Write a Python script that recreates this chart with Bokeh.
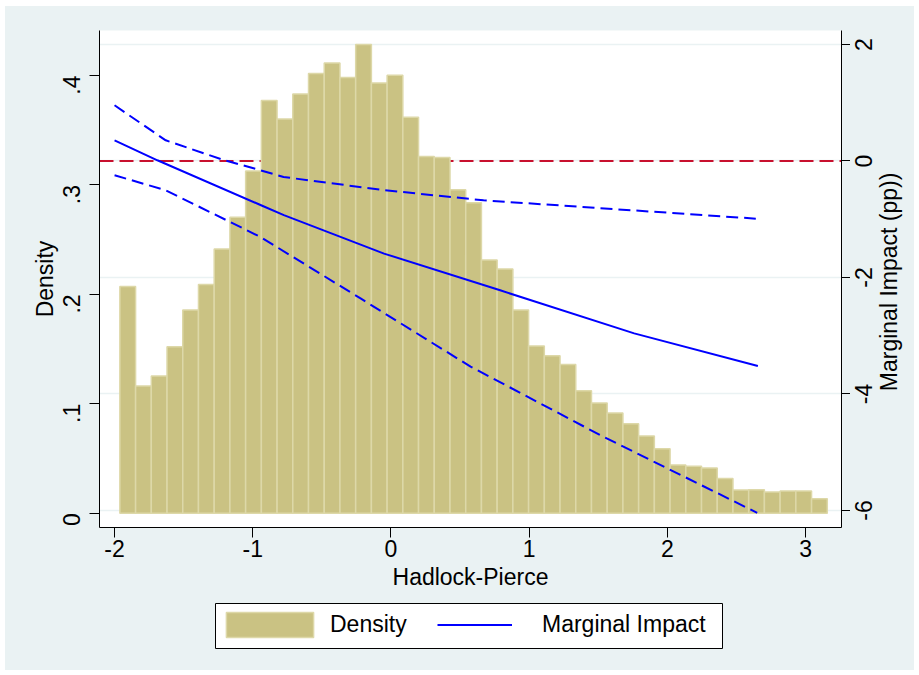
import math
import numpy as np
from bokeh.plotting import figure
from bokeh.layouts import row, column
from bokeh.models import (Range1d, LinearAxis, FixedTicker, Span, Legend, LegendItem,
                          BoxAnnotation)
from bokeh.core.properties import value
from bokeh.embed import file_html
from bokeh.resources import INLINE

# ---------------- data ----------------
bin_start = -1.9616
bin_width = 0.11375
density = [0.2073, 0.1163, 0.1254, 0.1522, 0.1857, 0.2091, 0.2415, 0.2704, 0.3128, 0.3773,
           0.3603, 0.3832, 0.4020, 0.4115, 0.3983, 0.4285, 0.3932, 0.4002, 0.3618, 0.3261,
           0.3252, 0.2957, 0.2838, 0.2314, 0.2232, 0.1857, 0.1528, 0.1440, 0.1360, 0.1120,
           0.1007, 0.0916, 0.0818, 0.0706, 0.0590, 0.0441, 0.0428, 0.0413, 0.0318, 0.0212,
           0.0215, 0.0194, 0.0203, 0.0203, 0.0133]

mi_x = [-2.0, -1.69, -0.94, -0.775, -0.05, 0.79, 1.76, 2.655]
mi_y = [0.355, 0.012, -0.76, -0.93, -1.59, -2.22, -2.96, -3.52]

ci_hi_x = [-2.0, -1.63, -1.22, -0.944, -0.777, -0.053, 0.67, 2.64]
ci_hi_y = [0.956, 0.355, 0.024, -0.16, -0.275, -0.50, -0.675, -0.99]

ci_lo_x = [-2.0, -1.63, -0.944, -0.22, 0.576, 1.517, 2.65]
ci_lo_y = [-0.245, -0.503, -1.305, -2.36, -3.53, -4.71, -6.04]

ref_level = 0

x_ticks = [-2.0, -1.0, 0.0, 1.0, 2.0, 3.0]
x_labels = ["-2", "-1", "0", "1", "2", "3"]
dens_ticks = [0.0, 0.1, 0.2, 0.3, 0.4]
dens_labels = ["0", ".1", ".2", ".3", ".4"]
mi_ticks = [-6.0, -4.0, -2.0, 0.0, 2.0]
mi_labels = ["-6", "-4", "-2", "0", "2"]

x_title = "Hadlock-Pierce"
dens_title = "Density"
mi_title = "Marginal Impact (pp))"
legend_labels = ["Density", "Marginal Impact"]

# ---------------- style ----------------
FONT = "Liberation Sans"
FS = "23px"
BG = "#EAF2F3"
BAR_FILL = "#CAC283"
BAR_LINE = "#DDD8A8"
BLUE = "#0000FF"
RED = "#C8102E"

X_RANGE = (-2.109, 3.26)
MI_RANGE = (-6.292, 2.240)
DENS_RANGE = (-0.01307, 0.4412)

TOP, BOTTOM = 24, 74
MAIN_H = 595
RIGHT_TICK = 9
MAIN_W = 836 + RIGHT_TICK
SIDE_W = 909 - MAIN_W
STRIP_W, STRIP_H = 909, 675 - 6 - 5 - MAIN_H

edges = bin_start + bin_width * np.arange(len(density) + 1)

mi_range = Range1d(*MI_RANGE)

p = figure(width=MAIN_W, height=MAIN_H,
           x_range=Range1d(*X_RANGE),
           y_range=mi_range,
           y_axis_location="right",
           output_backend="svg", toolbar_location=None,
           min_border_left=94, min_border_right=RIGHT_TICK,
           min_border_top=TOP, min_border_bottom=BOTTOM)
p.extra_y_ranges = {"dens": Range1d(*DENS_RANGE)}

p.border_fill_color = BG
p.background_fill_color = "white"
p.outline_line_color = None

# grid (follows right axis ticks)
p.xgrid.visible = False
p.ygrid.ticker = FixedTicker(ticks=mi_ticks)
p.ygrid.grid_line_color = BG
p.ygrid.grid_line_width = 1.5

# reference line at 0 (behind bars)
ref = Span(location=ref_level, dimension="width", line_color=RED, line_width=2,
           line_dash="14 6", level="underlay")
p.add_layout(ref)

# histogram
q = p.quad(left=edges[:-1], right=edges[1:], top=density, bottom=0,
           fill_color=BAR_FILL, line_color=BAR_LINE, line_width=1.5,
           y_range_name="dens")

# marginal impact lines
solid = p.line(mi_x, mi_y, line_color=BLUE, line_width=2)
p.line(ci_hi_x, ci_hi_y, line_color=BLUE, line_width=2, line_dash="12 6")
p.line(ci_lo_x, ci_lo_y, line_color=BLUE, line_width=2, line_dash="12 6")

# axes
def style_axis(ax):
    ax.axis_line_color = "black"
    ax.axis_line_width = 1
    ax.major_tick_line_color = "black"
    ax.major_tick_out = 10
    ax.major_tick_in = 0
    ax.minor_tick_line_color = None
    ax.major_label_text_font = FONT
    ax.major_label_text_font_size = FS
    ax.major_label_text_color = "black"
    ax.axis_label_text_font = FONT
    ax.axis_label_text_font_size = FS
    ax.axis_label_text_font_style = "normal"
    ax.axis_label_text_color = "black"

xa = p.xaxis[0]
xa.ticker = FixedTicker(ticks=x_ticks)
xa.major_label_overrides = dict(zip(x_ticks, x_labels))
xa.axis_label = x_title
style_axis(xa)
xa.major_label_standoff = 2
xa.axis_label_standoff = 4

# right axis: line + ticks here, its texts are drawn in the side panel
ra = p.yaxis[0]
ra.ticker = FixedTicker(ticks=mi_ticks)
style_axis(ra)
ra.major_tick_out = RIGHT_TICK
ra.major_label_overrides = {t: "" for t in mi_ticks}
ra.major_label_standoff = 0

la = LinearAxis(y_range_name="dens", ticker=FixedTicker(ticks=dens_ticks))
la.major_label_overrides = dict(zip(dens_ticks, dens_labels))
la.axis_label = dens_title
style_axis(la)
la.major_label_orientation = math.pi / 2
la.major_label_standoff = 18
la.axis_label_standoff = -6
p.add_layout(la, "left")

# side panel carrying the right-axis texts (read bottom-to-top);
# its x range is in pixels measured from the plot frame's right edge
side = figure(width=SIDE_W, height=MAIN_H,
              x_range=Range1d(RIGHT_TICK, RIGHT_TICK + SIDE_W), y_range=mi_range,
              output_backend="svg", toolbar_location=None,
              min_border_left=0, min_border_right=0,
              min_border_top=TOP, min_border_bottom=BOTTOM)
side.axis.visible = False
side.grid.visible = False
side.border_fill_color = BG
side.background_fill_color = BG
side.outline_line_color = None
side.text(x=[22] * len(mi_ticks), y=mi_ticks, text=mi_labels, angle=math.pi / 2,
          text_align="center", text_baseline="middle",
          text_font=value(FONT), text_font_size=FS, text_color="black")
side.text(x=[47], y=[(MI_RANGE[0] + MI_RANGE[1]) / 2 - 0.05], text=[mi_title], angle=math.pi / 2,
          text_align="center", text_baseline="middle",
          text_font=value(FONT), text_font_size=FS, text_color="black")

# legend strip (pixel-unit ranges); its renderers carry the same data, hidden
lf = figure(width=STRIP_W, height=STRIP_H,
            x_range=Range1d(0, STRIP_W), y_range=Range1d(0, STRIP_H),
            output_backend="svg", toolbar_location=None,
            min_border_left=0, min_border_right=0, min_border_top=0, min_border_bottom=0)
lf.axis.visible = False
lf.grid.visible = False
lf.border_fill_color = BG
lf.background_fill_color = BG
lf.outline_line_color = None
lq = lf.quad(left=edges[:-1], right=edges[1:], top=density, bottom=0,
             fill_color=BAR_FILL, line_color=BAR_LINE, line_width=1.5, visible=False)
ll = lf.line(mi_x, mi_y, line_color=BLUE, line_width=2, visible=False)

legend_box = BoxAnnotation(left=210, right=717, bottom=22, top=67,
                           fill_color="white", fill_alpha=1.0,
                           line_color="black", line_width=1, line_alpha=1.0)
lf.add_layout(legend_box)

common = dict(orientation="horizontal", border_line_color=None,
              background_fill_alpha=0.0, padding=0, margin=0,
              label_text_font=FONT, label_text_font_size=FS, label_text_color="black",
              glyph_height=31, label_height=25)
leg_a = Legend(items=[LegendItem(label=legend_labels[0], renderers=[lq])],
               location=(210, 30), glyph_width=109, label_standoff=6, **common)
leg_b = Legend(items=[LegendItem(label=legend_labels[1], renderers=[ll])],
               location=(432, 30), glyph_width=75, label_standoff=30, **common)
lf.add_layout(leg_a)
lf.add_layout(leg_b)

lay = column(row(p, side, styles={"background-color": BG}), lf,
             styles={"margin-left": "5px", "margin-top": "6px", "background-color": BG})

open("out.html", "w").write(file_html(lay, INLINE))
